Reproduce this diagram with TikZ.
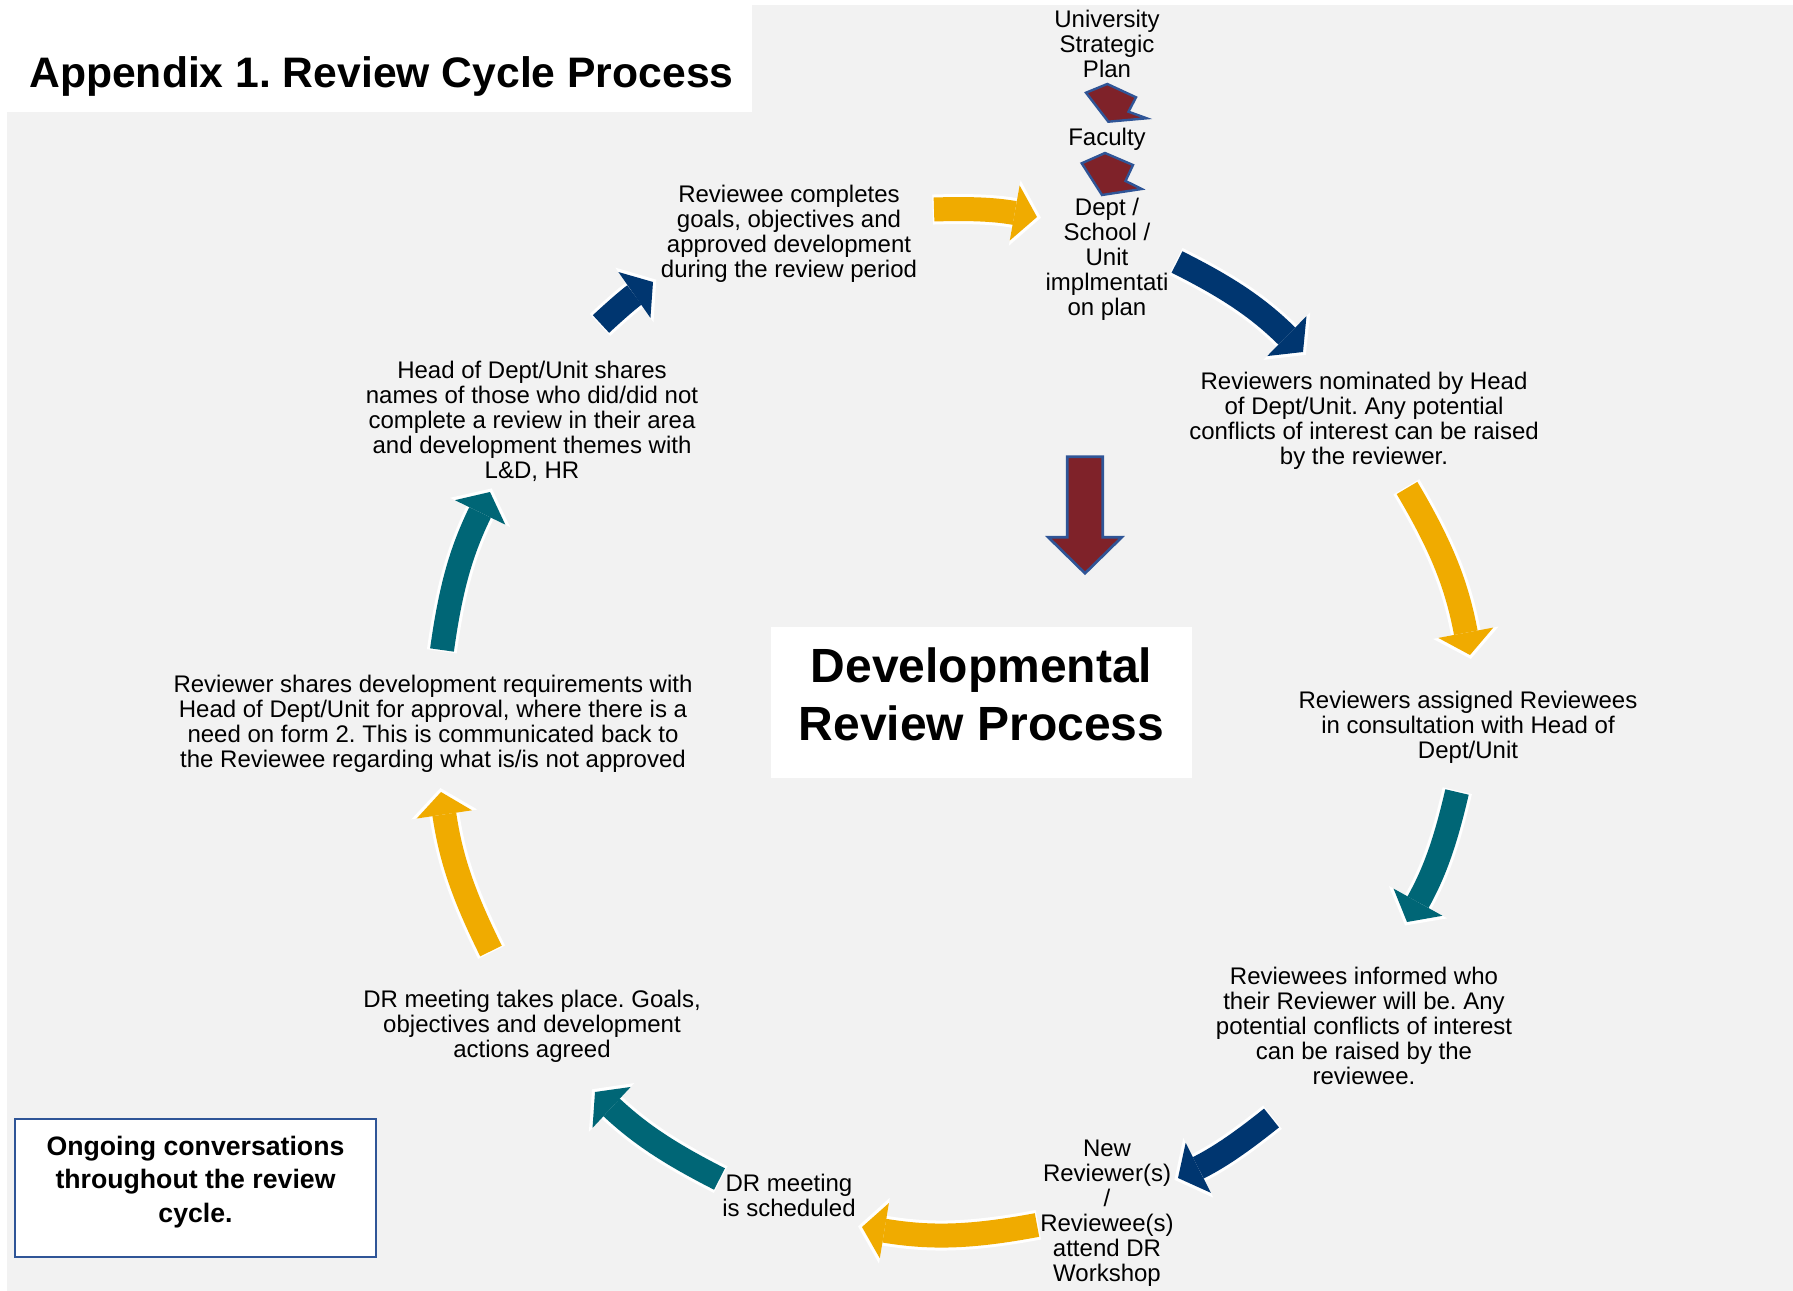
\documentclass[tikz,border=0pt]{standalone}
\usepackage{fontspec}
\setmainfont{Liberation Sans}
\usetikzlibrary{arrows.meta}
\frenchspacing
\definecolor{bggrey}{RGB}{242,242,242}
\definecolor{ambar}{RGB}{240,171,0}
\definecolor{navy}{RGB}{0,54,112}
\definecolor{teal}{RGB}{0,102,118}
\definecolor{maroon}{RGB}{127,34,41}
\definecolor{edgeblue}{RGB}{47,85,151}
\tikzstyle{stage} = [align=center, inner sep=0pt, font=\fontsize{18}{18.75}\selectfont]
\tikzstyle{cyc} = [line width=18pt, -{Triangle[width=42pt,length=17pt,line width=0pt 0 0]}, preaction={draw=white, line width=22.5pt, -{Triangle[width=50pt,length=20pt,line width=0pt 0 0]}, shorten >=-3pt, shorten <=-1pt}]
\tikzstyle{cascade} = [fill=maroon, draw=edgeblue, line width=1.8pt, line join=miter]

\begin{document}
\begin{tikzpicture}[x=0.75pt, y=-0.75pt]
\useasboundingbox (0,0) rectangle (1793,1291);
\fill[white] (0,0) rectangle (1793,1291);
\fill[bggrey] (7,5) rectangle (1793,1291);
\fill[white] (7,5) rectangle (752,112);

\node (title) [anchor=base west, inner sep=0pt, font=\bfseries\fontsize{32}{38}\selectfont] at (29,88) {Appendix 1. Review Cycle Process};

% cascade from the strategic plan
\node (usp) [stage] at (1107,44) {University\\Strategic\\Plan};
\node (fac) [stage] at (1107,139) {Faculty};
\node (dept) [stage] at (1107,259) {Dept /\\School /\\Unit\\implmentati\\on plan};
\draw[cascade] (1086,92.7) -- (1107.3,84) -- (1136,97.3) -- (1128.5,111.7) -- (1146.7,118.3) -- (1108.3,121.7) -- cycle;
\draw[cascade] (1081.7,163.3) -- (1105,153) -- (1133,165) -- (1125.5,181) -- (1141.7,189) -- (1102,195) -- cycle;

% cycle stages
\node (revc) [stage] at (789,234) {Reviewee completes\\goals, objectives and\\approved development\\during the review period};
\node (nom) [stage] at (1364,421) {Reviewers nominated by Head\\of Dept/Unit. Any potential\\conflicts of interest can be raised\\by the reviewer.};
\node (asg) [stage] at (1468,727) {Reviewers assigned Reviewees\\in consultation with Head of\\Dept/Unit};
\node (inf) [stage] at (1364,1026) {Reviewees informed who\\their Reviewer will be. Any\\potential conflicts of interest\\can be raised by the\\reviewee.};
\node (wks) [stage] at (1107,1213) {New\\Reviewer(s)\\/\\Reviewee(s)\\attend DR\\Workshop};
\node (sch) [stage] at (789,1195) {DR meeting\\is scheduled};
\node (mtg) [stage] at (532,1026) {DR meeting takes place. Goals,\\objectives and development\\actions agreed};
\node (shr) [stage] at (433,724) {Reviewer shares development requirements with\\Head of Dept/Unit for approval, where there is a\\need on form 2. This is communicated back to\\the Reviewee regarding what is/is not approved};
\node (hod) [stage] at (532,421) {Head of Dept/Unit shares\\names of those who did/did not\\complete a review in their area\\and development themes with\\L\&D, HR};

\node (drbox) [fill=white, minimum width=421*0.75pt, minimum height=151*0.75pt] at (981.5,702.5) {};
\node (drp) [align=center, inner sep=0pt, font=\bfseries\fontsize{36}{43.5}\selectfont] at (981.5,694) {Developmental\\Review Process};
\node (ongbox) [fill=white, draw=edgeblue, line width=1.5pt, minimum width=361*0.75pt, minimum height=138*0.75pt] at (195.5,1188) {};
\node (ong) [align=center, inner sep=0pt, font=\bfseries\fontsize{20}{25}\selectfont] at (195.5,1182) {Ongoing conversations\\throughout the review\\cycle.};

% big arrow into the centre
\draw[cascade, line width=2pt] (1067.3,456.7) -- (1102.7,456.7) -- (1102.7,537.3) -- (1121.7,537.3) -- (1085,573.3) -- (1048.3,537.3) -- (1067.3,537.3) -- cycle;

% arrow ends
\coordinate (c1s) at (934,209.5);   \coordinate (c1e) at (1037,217);
\coordinate (c2s) at (1177,262);    \coordinate (c2e) at (1303,352);
\coordinate (c3s) at (1407,488);    \coordinate (c3e) at (1470,655);
\coordinate (c4s) at (1457,792);    \coordinate (c4e) at (1407,922);
\coordinate (c5s) at (1271.5,1118); \coordinate (c5e) at (1178,1178);
\coordinate (c6s) at (1037,1225);   \coordinate (c6e) at (862,1227);
\coordinate (c7s) at (719.5,1179);  \coordinate (c7e) at (595,1092);
\coordinate (c8s) at (491,951);     \coordinate (c8e) at (441,792);
\coordinate (c9s) at (442,650);     \coordinate (c9e) at (490,492);
\coordinate (c10s) at (601,324);    \coordinate (c10e) at (653,282);

\draw[cyc, draw=ambar] (c1s) to[bend left=6] (c1e);
\draw[cyc, draw=navy] (c2s) to[bend left=9] (c2e);
\draw[cyc, draw=ambar] (c3s) to[bend left=10] (c3e);
\draw[cyc, draw=teal] (c4s) to[bend left=8] (c4e);
\draw[cyc, draw=navy] (c5s) to[bend left=6] (c5e);
\draw[cyc, draw=ambar] (c6s) to[bend left=10] (c6e);
\draw[cyc, draw=teal] (c7s) to[bend left=8] (c7e);
\draw[cyc, draw=ambar] (c8s) to[bend left=9] (c8e);
\draw[cyc, draw=teal] (c9s) to[bend left=9] (c9e);
\draw[cyc, draw=navy] (c10s) to[bend left=4] (c10e);
\end{tikzpicture}
\end{document}
